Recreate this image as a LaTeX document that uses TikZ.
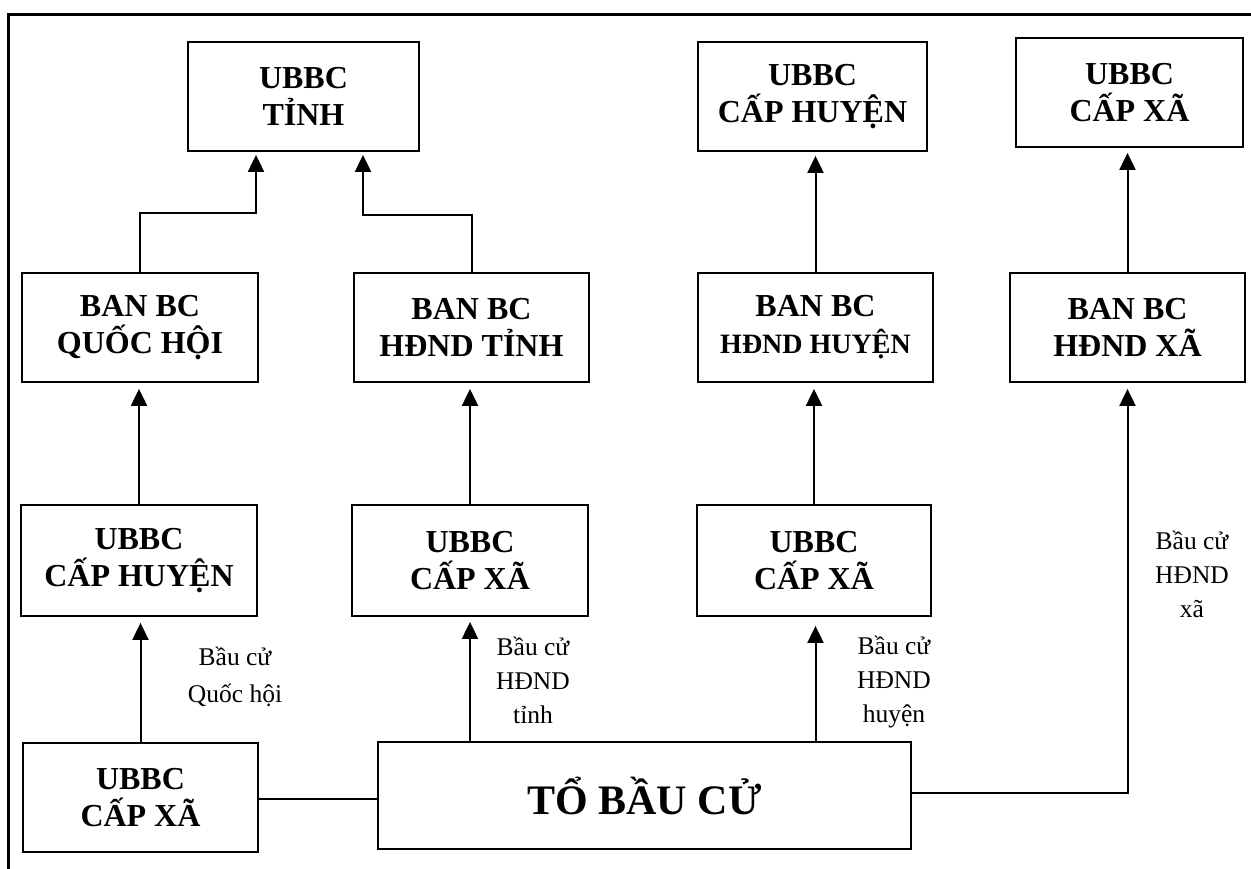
\documentclass[tikz,border=0pt]{standalone}
\usepackage{fontspec}
\setmainfont{Liberation Serif}
\usetikzlibrary{arrows.meta,calc}
\begin{document}
\begin{tikzpicture}[x=1pt,y=-1pt,
  box/.style={draw,line width=1.8pt,inner sep=0pt,align=center,minimum height=109pt,
    font=\bfseries\fontsize{32}{37}\selectfont},
  lbl/.style={inner sep=0pt,align=center,font=\fontsize{25.5}{34}\selectfont},
  arr/.style={line width=2pt,-{Triangle[width=16pt,length=17pt]}},
  ln/.style={line width=2pt}]
\fill[white] (0,0) rectangle (1251,868);
\useasboundingbox (0,0) rectangle (1251,868);
% outer frame (only left and top visible)
\draw[line width=3.5pt] (8.5,880) -- (8.5,14.5) -- (1270,14.5);
% top row
\node[box,minimum width=231pt] (tinhT) at (303.5,96.5) {UBBC\\TỈNH};
\node[box,minimum width=229pt] (huyenT) at (812.5,96.5) {UBBC\\CẤP HUYỆN};
\node[box,minimum width=227pt] (xaT) at (1129.5,92.5) {UBBC\\CẤP XÃ};
% BAN BC row
\node[box,minimum width=236pt] (banQH) at (140,327.5) {BAN BC\\QUỐC HỘI};
\node[box,minimum width=235pt] (banTinh) at (471.5,327.5) {BAN BC\\HĐND TỈNH};
\node[box,minimum width=235pt] (banHuyen) at (815.5,327.5) {BAN BC\\{\fontsize{28}{30}\selectfont HĐND HUYỆN}};
\node[box,minimum width=235pt] (banXa) at (1127.5,327.5) {BAN BC\\HĐND XÃ};
% middle row
\node[box,minimum width=236pt,minimum height=111pt] (midHuyen) at (139,560.5) {UBBC\\CẤP HUYỆN};
\node[box,minimum width=236pt,minimum height=111pt] (midXa1) at (470,560.5) {UBBC\\CẤP XÃ};
\node[box,minimum width=234pt,minimum height=111pt] (midXa2) at (814,560.5) {UBBC\\CẤP XÃ};
% bottom row
\node[box,minimum width=235pt] (botXa) at (140.5,797.5) {UBBC\\CẤP XÃ};
\node[box,minimum width=533pt,minimum height=107pt,font=\bfseries\fontsize{42}{46}\selectfont] (to) at (644.5,795.5) {TỔ BẦU CỬ};
% labels
\node[lbl,font=\fontsize{25.5}{37}\selectfont] (lQH) at (235,677) {Bầu cử\\Quốc hội};
\node[lbl] (lTinh) at (533,680) {Bầu cử\\HĐND\\tỉnh};
\node[lbl] (lHuyen) at (894,682) {Bầu cử\\HĐND\\huyện};
\node[lbl] (lXa) at (1192,574) {Bầu cử\\HĐND\\xã};
% elbow points
\coordinate (j1) at (256,213);
\coordinate (j2) at (363,215);
% connectors
\draw[arr,shorten >=3pt] (banQH.north) |- (j1) -- (j1 |- tinhT.south);
\draw[arr,shorten >=3pt] (banTinh.north) |- (j2) -- (j2 |- tinhT.south);
\draw[arr,shorten >=4pt] (banHuyen.north) -- (banHuyen.north |- huyenT.south);
\draw[arr,shorten >=5pt] (banXa.north) -- (banXa.north |- xaT.south);
\draw[arr,shorten >=6pt] (midHuyen.north) -- (midHuyen.north |- banQH.south);
\draw[arr,shorten >=6pt] (midXa1.north) -- (midXa1.north |- banTinh.south);
\draw[arr,shorten >=6pt] (midXa2.north) -- (midXa2.north |- banHuyen.south);
\draw[arr,shorten >=6pt] (botXa.north) -- (botXa.north |- midHuyen.south);
\draw[arr,shorten >=5pt] (to.north -| midXa1.south) -- (midXa1.south);
\draw[arr,shorten >=9pt] (to.north -| banHuyen.south) -- (midXa2.south -| banHuyen.south);
\draw[arr,shorten >=6pt] ([yshift=3pt]to.east) -| (banXa.south);
\draw[ln] ([yshift=-1.5pt]botXa.east) -- ([yshift=-1.5pt]botXa.east -| to.west);
\end{tikzpicture}
\end{document}
